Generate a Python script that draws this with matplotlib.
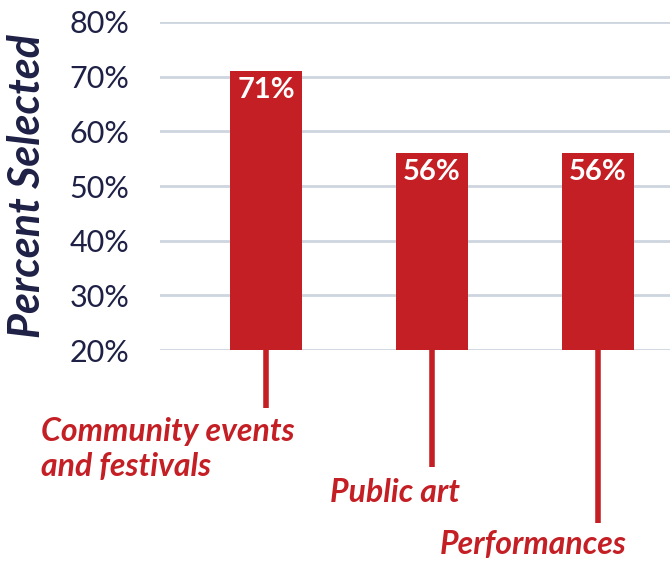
import matplotlib.pyplot as plt
from matplotlib.ticker import FuncFormatter

# percent selecting each type of arts activity
categories = ["Community events\nand festivals", "Public art", "Performances"]
percents = [71, 56, 56]
yticks = [20, 30, 40, 50, 60, 70, 80]

RED = "#C41F24"
NAVY = "#1E2145"
GRID = "#CDD5DF"
FONT = "Lato"

fig = plt.figure(figsize=(6.7, 5.62), dpi=100)
ax = fig.add_axes([0.239, 0.377, 0.761, 0.584])

xs = list(range(len(categories)))
ax.bar(xs, [p - 20 for p in percents], bottom=20, width=0.434, color=RED, zorder=3)
for x, p in zip(xs, percents):
    ax.text(x, p - 1.0, f"{p}%", ha="center", va="top", color="white",
            fontsize=21, fontweight="bold", family=FONT, zorder=4)

ax.set_ylim(20, 80)
ax.set_xlim(-0.639, 2.437)
ax.set_yticks(yticks)
ax.yaxis.set_major_formatter(FuncFormatter(lambda v, _: f"{v:.0f}%"))
ax.set_xticks([])
ax.tick_params(axis="y", length=0, pad=22, labelsize=22, labelcolor=NAVY)
for lab in ax.get_yticklabels():
    lab.set_family(FONT)
ax.grid(axis="y", color=GRID, lw=2, zorder=0)
for s in ax.spines.values():
    s.set_visible(False)
ax.set_ylabel("Percent Selected", fontsize=31, fontweight="bold", style="italic",
              color=NAVY, family=FONT)
ax.yaxis.set_label_coords(-0.222, 0.5)

# leader lines and category labels below the baseline
line_ends = [9.4, -1.4, -11.6]
label_pos = [(-1.36, 1.9), (0.386, -6.1), (1.048, -15.6)]
for x, end, (lx, ly), name in zip(xs, line_ends, label_pos, categories):
    ax.plot([x, x], [20, end], color=RED, lw=4, clip_on=False, solid_capstyle="butt")
    ax.text(lx, ly, name, ha="left", va="center", color=RED, fontsize=23,
            fontweight="bold", style="italic", family=FONT, linespacing=1.25,
            clip_on=False)

fig.savefig("out.png", dpi=100)
